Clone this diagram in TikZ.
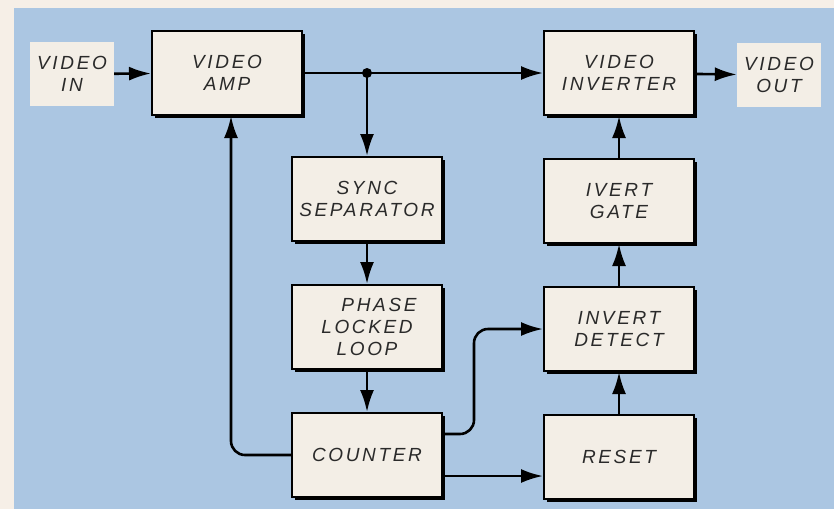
\documentclass[tikz,border=0pt]{standalone}
\usepackage{fontspec}
\usepackage{xcolor}
\usepackage{tikz}
\usetikzlibrary{arrows.meta,positioning,shadows}
\newfontfamily\letterfont[LetterSpace=14]{Liberation Sans Italic}
\definecolor{panelblue}{HTML}{ABC6E2}
\definecolor{paper}{HTML}{F6EFE7}
\definecolor{boxfill}{HTML}{F3EEE6}
\definecolor{ink}{HTML}{2A2A2A}

\begin{document}
\begin{tikzpicture}[x=1pt, y=1pt, node distance=42pt,
  font=\letterfont\fontsize{19}{22}\selectfont,
  box/.style={draw=black, line width=2pt, fill=boxfill, text=ink, minimum width=150pt, minimum height=84pt, align=center, inner sep=2pt,
    general shadow={fill=black, shadow xshift=2.5pt, shadow yshift=-2.5pt}},
  port/.style={fill=boxfill, text=ink, minimum width=84pt, minimum height=64pt, align=center, inner sep=2pt},
  arr/.style={-{Latex[length=22pt, width=14pt]}, line width=2.6pt}]
\fill[paper] (0,0) rectangle (834,-509);
\fill[panelblue] (14,-8) rectangle (834,-509);
\useasboundingbox (0,0) rectangle (834,-509);
\node[port] (vin) at (72,-74) {VIDEO\\IN};
\node[box] (amp) at (227,-73) {VIDEO\\AMP};
\node[box] (sync) at (367,-199) {SYNC\\SEPARATOR};
\node[box, below=of sync] (pll) {\hspace*{24pt}PHASE\\LOCKED\\LOOP};
\node[box, below=of pll] (cnt) {COUNTER};
\node[box] (inv) at (619,-73) {VIDEO\\INVERTER};
\node[box, below=of inv] (gate) {IVERT\\GATE};
\node[box, below=of gate] (det) {INVERT\\DETECT};
\node[box, below=of det] (rst) {RESET};
\node[port] (vout) at (779,-75) {VIDEO\\OUT};
\coordinate (split) at (sync.north |- amp.east);
\draw[arr] (vin) -- (amp);
\draw[arr] (amp.east) -- (inv.west);
\fill (split) circle (5);
\draw[arr] (split) -- (sync);
\draw[arr] (sync) -- (pll);
\draw[arr] (pll) -- (cnt);
\draw[arr, rounded corners=14pt] (cnt.west) -| ([xshift=4pt]amp.south);
\draw[arr, rounded corners=14pt] ([yshift=21pt]cnt.east) -- ++(31,0) |- (det.west);
\draw[arr] ([yshift=-21pt]cnt.east) -- ([yshift=-21pt]cnt.east -| rst.west);
\draw[arr] (rst) -- (det);
\draw[arr] (det) -- (gate);
\draw[arr] (gate) -- (inv);
\draw[arr] (inv) -- (vout);
\end{tikzpicture}
\end{document}
